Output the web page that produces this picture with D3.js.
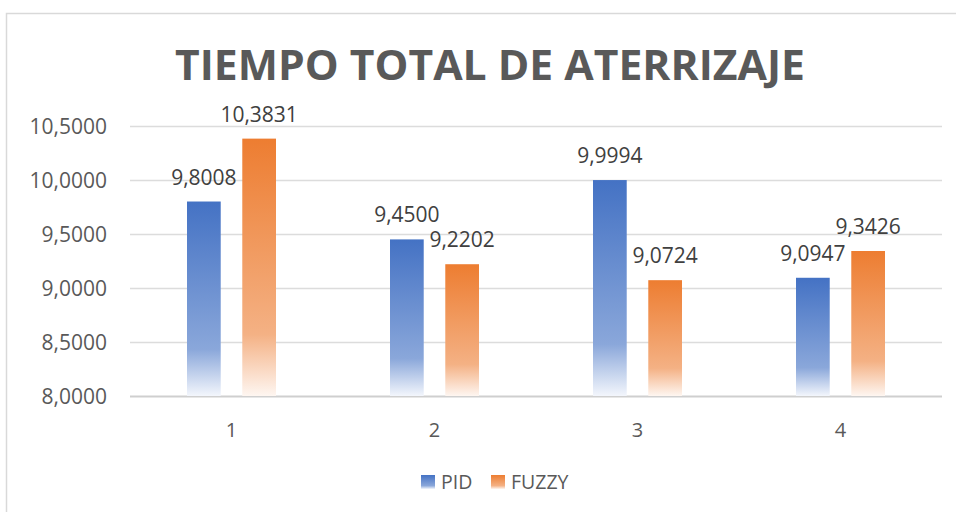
<!DOCTYPE html>
<html>
<head>
<meta charset="utf-8">
<script src="https://cdn.jsdelivr.net/npm/d3@7"></script>
<style>
  html, body { margin: 0; padding: 0; background: #fff; }
  svg { display: block; font-family: "Open Sans", sans-serif; }
</style>
</head>
<body>
<svg id="chart" width="956" height="512"></svg>
<script>
// Landing time per test run, PID vs fuzzy controller
const categories = ["1", "2", "3", "4"];
const seriesNames = ["PID", "FUZZY"];
const pidValues = [9.8008, 9.4500, 9.9994, 9.0947];
const fuzzyValues = [10.3831, 9.2202, 9.0724, 9.3426];
const yTicks = [8.0, 8.5, 9.0, 9.5, 10.0, 10.5];
const titleText = "TIEMPO TOTAL DE ATERRIZAJE";

const seriesValues = { PID: pidValues, FUZZY: fuzzyValues };
const colors = {
  PID: ["#4472C4", "#8aa7da", "#f3f6fc"],
  FUZZY: ["#ED7D31", "#f4b184", "#fef6f1"]
};

const svg = d3.select("#chart");
const fmt = v => v.toFixed(4).replace(".", ",");

// Gradients fading towards the bottom of each bar
const defs = svg.append("defs");
seriesNames.forEach(name => {
  const g = defs.append("linearGradient")
    .attr("id", "grad-" + name)
    .attr("x1", 0).attr("y1", 0).attr("x2", 0).attr("y2", 1);
  g.append("stop").attr("offset", "0%").attr("stop-color", colors[name][0]);
  g.append("stop").attr("offset", "76%").attr("stop-color", colors[name][1]);
  g.append("stop").attr("offset", "100%").attr("stop-color", colors[name][2]);
});

// Chart frame
svg.append("rect")
  .attr("x", 6.5).attr("y", 13.5)
  .attr("width", 970).attr("height", 520)
  .attr("fill", "#fff")
  .attr("stroke", "#d9d9d9").attr("stroke-width", 1.5);

// Title, fitted horizontally to its target width
const title = svg.append("text")
  .attr("text-anchor", "middle")
  .attr("font-size", 42)
  .attr("font-weight", "bold")
  .attr("fill", "#595959")
  .text(titleText);
const titleW = title.node().getComputedTextLength();
title.attr("transform", `translate(490,80) scale(${630 / titleW},1)`);

const plot = { left: 130, right: 942, top: 126, bottom: 396 };

const y = d3.scaleLinear()
  .domain([8, 10.5])
  .range([plot.bottom, plot.top]);

const x0 = d3.scaleBand()
  .domain(categories)
  .range([plot.left, plot.right])
  .paddingInner(0).paddingOuter(0);

const groupWidth = 89;
const x1 = d3.scaleBand()
  .domain(seriesNames)
  .range([0, groupWidth])
  .paddingInner(0.39);

// Gridlines
svg.append("g")
  .selectAll("line")
  .data(yTicks)
  .join("line")
  .attr("x1", plot.left).attr("x2", plot.right)
  .attr("y1", d => Math.round(y(d)) + 0.5)
  .attr("y2", d => Math.round(y(d)) + 0.5)
  .attr("stroke", d => d === 8 ? "#cfcfcf" : "#dcdcdc")
  .attr("stroke-width", d => d === 8 ? 2 : 1.5);

// Y axis labels
const yAxis = d3.axisLeft(y).tickValues(yTicks).tickFormat(fmt).tickSize(0).tickPadding(0);
const yg = svg.append("g").attr("transform", "translate(107,0)").call(yAxis);
yg.select(".domain").remove();
yg.selectAll("text")
  .attr("font-size", 21)
  .attr("fill", "#595959")
  .attr("font-family", "Open Sans, sans-serif")
  .attr("dy", "0.34em");

// X axis labels
const xAxis = d3.axisBottom(x0).tickSize(0).tickPadding(0);
const xg = svg.append("g").attr("transform", `translate(0,${plot.bottom})`).call(xAxis);
xg.select(".domain").remove();
xg.selectAll("text")
  .attr("font-size", 20)
  .attr("fill", "#595959")
  .attr("font-family", "Open Sans, sans-serif")
  .attr("dy", null)
  .attr("y", 41);

// Bars and data labels
const groups = svg.append("g")
  .selectAll("g")
  .data(categories)
  .join("g")
  .attr("transform", d => `translate(${x0(d) + (x0.bandwidth() - groupWidth) / 2},0)`);

const cells = groups.selectAll("g")
  .data((c, i) => seriesNames.map(s => ({ series: s, value: seriesValues[s][i] })))
  .join("g");

cells.append("rect")
  .attr("x", d => x1(d.series))
  .attr("width", x1.bandwidth())
  .attr("y", d => y(d.value))
  .attr("height", d => y(8) - y(d.value))
  .attr("fill", d => `url(#grad-${d.series})`);

cells.append("text")
  .attr("x", d => x1(d.series) + x1.bandwidth() / 2)
  .attr("y", d => y(d.value) - 17)
  .attr("text-anchor", "middle")
  .attr("font-size", 21)
  .attr("fill", "#404040")
  .text(d => fmt(d.value));

// Legend
const legendItems = [
  { name: "PID", x: 421 },
  { name: "FUZZY", x: 491 }
];
const legend = svg.append("g");
legend.selectAll("rect")
  .data(legendItems)
  .join("rect")
  .attr("x", d => d.x).attr("y", 475)
  .attr("width", 14).attr("height", 14)
  .attr("fill", d => `url(#grad-${d.name})`);
legend.selectAll("text")
  .data(legendItems)
  .join("text")
  .attr("x", d => d.x + 20).attr("y", 489)
  .attr("font-size", 19.5)
  .attr("fill", "#595959")
  .text(d => d.name);
</script>
</body>
</html>
